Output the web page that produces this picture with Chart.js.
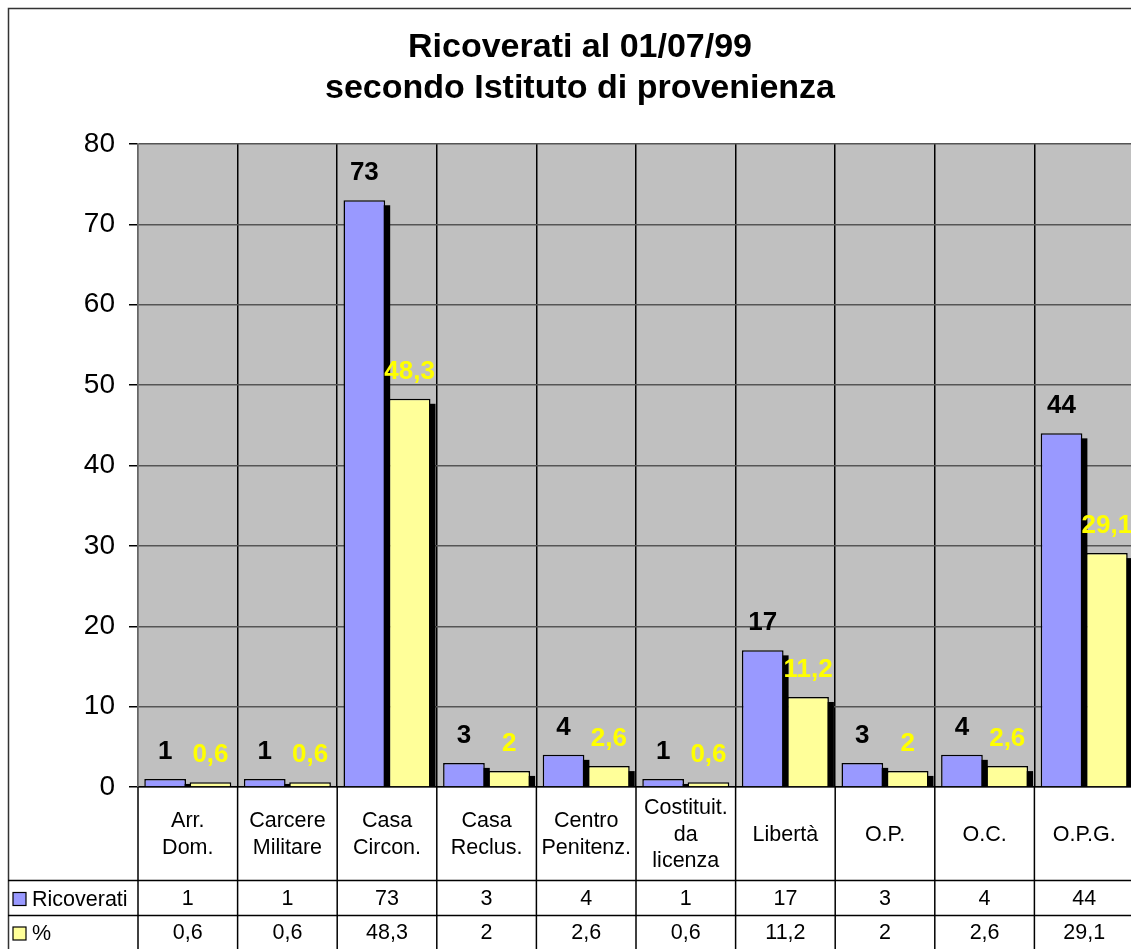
<!DOCTYPE html>
<html>
<head>
<meta charset="utf-8">
<title>Ricoverati al 01/07/99</title>
<script src="https://cdn.jsdelivr.net/npm/chart.js@4/dist/chart.umd.min.js"></script>
<style>
  html, body { margin: 0; padding: 0; background: #fff; overflow: hidden; }
  #wrap { position: relative; width: 1140px; height: 949px; }
</style>
</head>
<body>
<div id="wrap"><canvas id="chart"></canvas></div>
<script>
// Chart content
const titleLines = ['Ricoverati al 01/07/99', 'secondo Istituto di provenienza'];
const categories = [
  ['Arr.', 'Dom.'],
  ['Carcere', 'Militare'],
  ['Casa', 'Circon.'],
  ['Casa', 'Reclus.'],
  ['Centro', 'Penitenz.'],
  ['Costituit.', 'da', 'licenza'],
  ['Libertà'],
  ['O.P.'],
  ['O.C.'],
  ['O.P.G.']
];
const seriesNames = ['Ricoverati', '%'];
const ricoverati = [1, 1, 73, 3, 4, 1, 17, 3, 4, 44];
const percentuali = [0.6, 0.6, 48.3, 2, 2.6, 0.6, 11.2, 2, 2.6, 29.1];
const yMin = 0;
const yMax = 80;
const yStep = 10;

const FONT = '"Liberation Sans", Arial, Helvetica, sans-serif';
const seriesFill = ['#9999ff', '#ffff99'];
const labelColors = ['#000000', '#ffff00'];
const plotBackground = '#c0c0c0';

const fmt = v => String(v).replace('.', ',');

// Frame, title and plot background of the whole chart object
const framePlugin = {
  id: 'frame',
  beforeDraw(chart) {
    const ctx = chart.ctx;
    const a = chart.chartArea;
    ctx.save();
    ctx.fillStyle = '#ffffff';
    ctx.fillRect(0, 0, chart.width, chart.height);
    ctx.fillStyle = plotBackground;
    ctx.fillRect(a.left, a.top, a.right - a.left, a.bottom - a.top);
    ctx.strokeStyle = '#333333';
    ctx.lineWidth = 1.5;
    ctx.strokeRect(8.5, 8.5, 1400, 1200);
    ctx.fillStyle = '#000000';
    ctx.font = 'bold 34px ' + FONT;
    ctx.textAlign = 'center';
    ctx.textBaseline = 'alphabetic';
    titleLines.forEach((t, i) => ctx.fillText(t, 580, 57 + i * 41));
    ctx.restore();
  }
};

// Drop shadows behind the bars
const shadowPlugin = {
  id: 'barShadow',
  beforeDatasetsDraw(chart) {
    const ctx = chart.ctx;
    const a = chart.chartArea;
    ctx.save();
    ctx.beginPath();
    ctx.rect(a.left, a.top, a.right - a.left, a.bottom - a.top);
    ctx.clip();
    ctx.fillStyle = '#000000';
    chart.data.datasets.forEach((ds, di) => {
      chart.getDatasetMeta(di).data.forEach(el => {
        const p = el.getProps(['x', 'y', 'base', 'width'], true);
        const off = 5;
        ctx.fillRect(p.x - p.width / 2 + off, p.y + off, p.width, p.base - p.y - off);
      });
    });
    ctx.restore();
  }
};

// Value labels above the bars
const valueLabelPlugin = {
  id: 'valueLabels',
  afterDatasetsDraw(chart) {
    const ctx = chart.ctx;
    ctx.save();
    ctx.font = 'bold 26px ' + FONT;
    ctx.textAlign = 'center';
    ctx.textBaseline = 'alphabetic';
    chart.data.datasets.forEach((ds, di) => {
      ctx.fillStyle = labelColors[di];
      chart.getDatasetMeta(di).data.forEach((el, i) => {
        const p = el.getProps(['x', 'y'], true);
        ctx.fillText(fmt(ds.data[i]), p.x, p.y - 20);
      });
    });
    ctx.restore();
  }
};

// Data table under the plot: category names, values and legend keys
const tablePlugin = {
  id: 'dataTable',
  afterDraw(chart) {
    const ctx = chart.ctx;
    const xs = chart.scales.x;
    const a = chart.chartArea;
    const top = a.bottom;
    const row1 = 880.5;
    const row2 = 915.5;
    const bottom = chart.height + 5;
    const n = categories.length;
    const half = (xs.getPixelForValue(1) - xs.getPixelForValue(0)) / 2;

    ctx.save();
    ctx.strokeStyle = '#000000';
    ctx.lineWidth = 1.5;
    // vertical separators
    for (let i = 0; i <= n; i++) {
      const x = i < n ? xs.getPixelForValue(i) - half : xs.getPixelForValue(n - 1) + half;
      ctx.beginPath();
      ctx.moveTo(x, top);
      ctx.lineTo(x, bottom);
      ctx.stroke();
    }
    // row separators
    [row1, row2].forEach(y => {
      ctx.beginPath();
      ctx.moveTo(8, y);
      ctx.lineTo(chart.width, y);
      ctx.stroke();
    });

    ctx.fillStyle = '#000000';
    ctx.font = '21.5px ' + FONT;
    ctx.textAlign = 'center';
    ctx.textBaseline = 'middle';
    const headMid = (top + row1) / 2 + 1;
    const lh = 26.5;
    categories.forEach((lines, i) => {
      const cx = xs.getPixelForValue(i);
      const y0 = headMid - (lines.length - 1) * lh / 2;
      lines.forEach((t, k) => ctx.fillText(t, cx, y0 + k * lh));
      ctx.fillText(fmt(ricoverati[i]), cx, (row1 + row2) / 2 + 1);
      ctx.fillText(fmt(percentuali[i]), cx, row2 + 18);
    });

    // legend keys
    ctx.textAlign = 'left';
    const keyRows = [(row1 + row2) / 2 + 1, row2 + 18];
    seriesNames.forEach((name, k) => {
      const cy = keyRows[k];
      ctx.fillStyle = seriesFill[k];
      ctx.fillRect(13, cy - 6.5, 13, 13);
      ctx.lineWidth = 1.2;
      ctx.strokeRect(13, cy - 6.5, 13, 13);
      ctx.fillStyle = '#000000';
      ctx.fillText(name, 32, cy + 1);
    });
    ctx.restore();
  }
};

new Chart(document.getElementById('chart'), {
  type: 'bar',
  data: {
    labels: categories,
    datasets: [
      {
        label: seriesNames[0],
        data: ricoverati,
        backgroundColor: seriesFill[0],
        borderColor: '#000000',
        borderWidth: 1.5,
        borderSkipped: 'bottom',
        categoryPercentage: 0.91,
        barPercentage: 0.92
      },
      {
        label: seriesNames[1],
        data: percentuali,
        backgroundColor: seriesFill[1],
        borderColor: '#000000',
        borderWidth: 1.5,
        borderSkipped: 'bottom',
        categoryPercentage: 0.91,
        barPercentage: 0.92
      }
    ]
  },
  options: {
    responsive: true,
    maintainAspectRatio: false,
    animation: false,
    devicePixelRatio: 1,
    layout: { padding: { left: 8, top: 144, right: 6, bottom: 162 } },
    plugins: {
      legend: { display: false },
      title: { display: false },
      tooltip: { enabled: false }
    },
    scales: {
      x: {
        grid: {
          offset: true,
          drawTicks: false,
          color: c => (c.index === 0 ? '#666666' : '#000000'),
          lineWidth: 1.5
        },
        ticks: { display: false },
        border: { color: '#000000', width: 1.5 },
        afterFit: s => { s.height = 0; }
      },
      y: {
        min: yMin,
        max: yMax,
        ticks: {
          stepSize: yStep,
          color: '#000000',
          padding: 14,
          font: { family: FONT, size: 28 }
        },
        grid: {
          color: '#555555',
          lineWidth: 1.5,
          tickColor: '#000000',
          tickLength: 9,
          tickWidth: 1.5
        },
        border: { color: '#666666', width: 1.5 },
        afterFit: s => { s.width = 130; }
      }
    }
  },
  plugins: [framePlugin, shadowPlugin, valueLabelPlugin, tablePlugin]
});
</script>
</body>
</html>
